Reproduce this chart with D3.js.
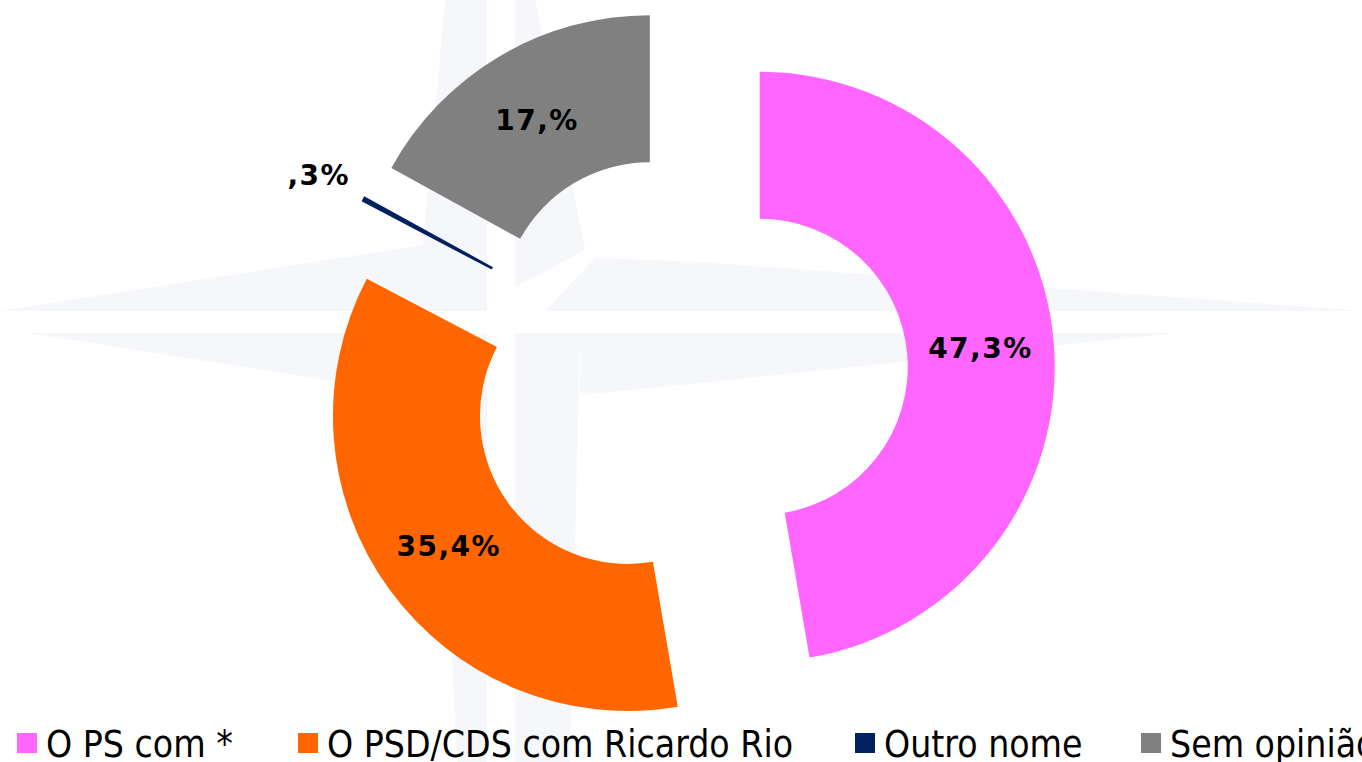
<!DOCTYPE html>
<html>
<head>
<meta charset="utf-8">
<script src="https://d3js.org/d3.v7.min.js"></script>
<style>
  html, body { margin: 0; padding: 0; background: #fff; overflow: hidden; }
  .label { font-family: "DejaVu Sans", Verdana, sans-serif; font-weight: bold; font-size: 28px; letter-spacing: 1.5px; fill: #000; }
  .legend-label { font-family: "DejaVu Sans Condensed", "DejaVu Sans", Tahoma, sans-serif; font-stretch: condensed; font-size: 37px; fill: #000; }
</style>
</head>
<body>
<div class="container"></div>
<script>
// data
const categories = ["O PS com *", "O PSD/CDS com Ricardo Rio", "Outro nome", "Sem opinião"]
const values = [47.3, 35.4, 0.3, 17.0]
const valueLabels = ["47,3%", "35,4%", ",3%", "17,%"]
const colors = ["#FF66FF", "#FF6600", "#002060", "#808080"]

const width = 1362
const height = 762
const cx = 687, cy = 373
const outerR = 295, innerR = 148
const explode = 73

const svg = d3.select('.container').append('svg')
    .attr('width', width)
    .attr('height', height)

// faint compass watermark in the background
const wm = svg.append('g').attr('class', 'watermark').style('fill', '#f5f7fb')
const wmShapes = [
    [[0,311],[423,245],[423,311]],                       // left arm, top half
    [[445,0],[487,0],[487,311],[423,311],[423,245]],     // top arm, left half
    [[515,0],[535,0],[585,250],[515,287]],               // top arm, right half
    [[545,311],[595,258],[700,262],[1362,311]],          // right arm, top half
    [[27,333],[487,405],[487,333]],                      // left arm, bottom half
    [[440,400],[487,405],[487,762],[457,762]],           // bottom arm, left half
    [[515,333],[580,333],[570,762],[515,762]],           // bottom arm, right half
    [[580,333],[1175,333],[700,383],[580,395]]           // right arm, bottom half
]
wm.selectAll('polygon')
    .data(wmShapes)
    .enter()
    .append('polygon')
    .attr('points', d => d.map(p => p.join(',')).join(' '))

const pie = d3.pie().sort(null).value(d => d)
const arcs = pie(values)

const arc = d3.arc().innerRadius(innerR).outerRadius(outerR)
const outerArc = d3.arc().innerRadius(outerR + 50).outerRadius(outerR + 50)

const chart = svg.append('g').attr('transform', `translate(${cx},${cy})`)

const slices = chart.selectAll('.slice')
    .data(arcs)
    .enter()
    .append('g')
    .attr('class', 'slice')
    .attr('transform', d => {
        const mid = (d.startAngle + d.endAngle) / 2
        return `translate(${explode * Math.sin(mid)},${-explode * Math.cos(mid)})`
    })

slices.append('path')
    .attr('d', arc)
    .style('fill', (d, i) => colors[i])

slices.append('text')
    .attr('class', 'label')
    .attr('transform', d => {
        // tiny slices get their label outside the ring
        const c = (d.endAngle - d.startAngle) < 0.1 ? outerArc.centroid(d) : arc.centroid(d)
        return `translate(${c})`
    })
    .attr('dy', '0.36em')
    .attr('text-anchor', 'middle')
    .text((d, i) => valueLabels[i])

// legend
const legendX = [17, 298, 855, 1141]
const legend = svg.append('g').attr('id', 'legend')
    .selectAll('g')
    .data(categories)
    .enter()
    .append('g')
    .attr('transform', (d, i) => `translate(${legendX[i]}, 733)`)

legend.append('rect')
    .attr('width', 20)
    .attr('height', 20)
    .style('fill', (d, i) => colors[i])

legend.append('text')
    .attr('class', 'legend-label')
    .attr('x', 29)
    .attr('y', 24)
    .text(d => d)
</script>
</body>
</html>
